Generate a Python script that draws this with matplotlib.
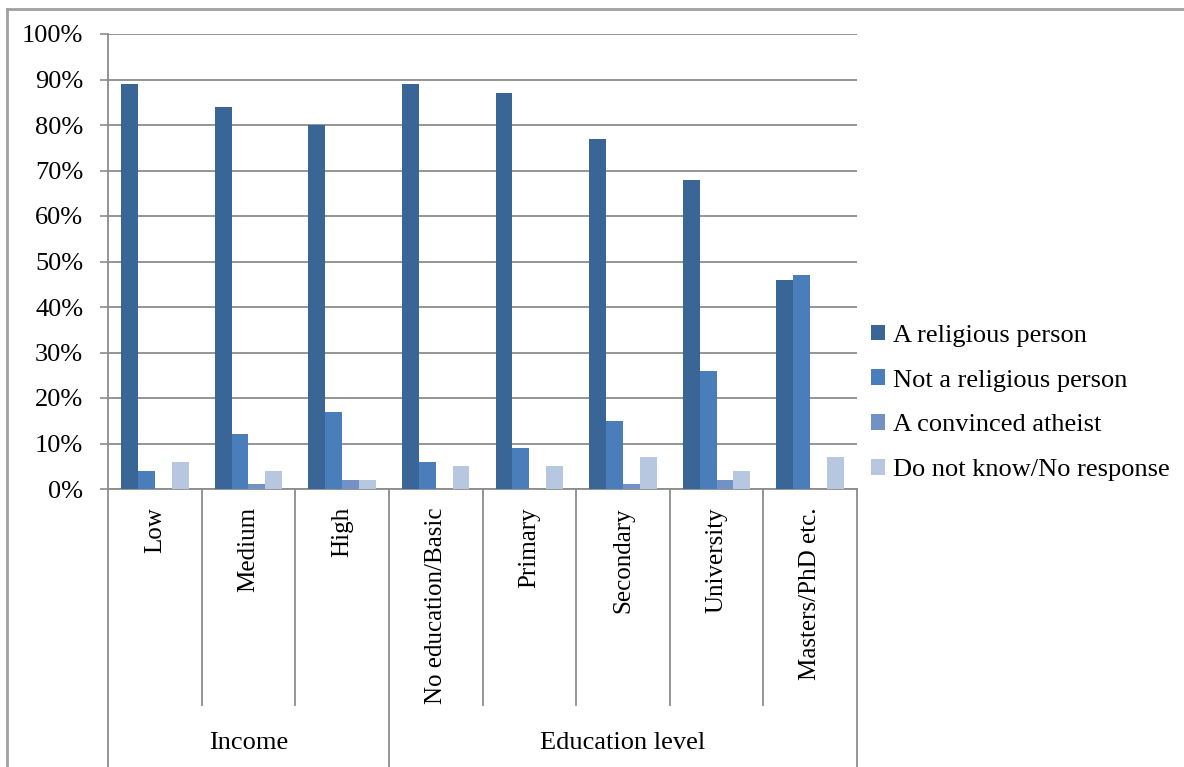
import numpy as np
import matplotlib
matplotlib.use("Agg")
import matplotlib.pyplot as plt
from matplotlib.lines import Line2D
from matplotlib.patches import Patch
import matplotlib.transforms as mtransforms

categories = ['Low', 'Medium', 'High', 'No education/Basic', 'Primary',
              'Secondary', 'University', 'Masters/PhD etc.']
groups = ['Income', 'Education level']
group_sizes = [3, 5]

series = ['A religious person', 'Not a religious person',
          'A convinced atheist', 'Do not know/No response']
religious = [89, 84, 80, 89, 87, 77, 68, 46]
not_religious = [4, 12, 17, 6, 9, 15, 26, 47]
atheist = [0, 1, 2, 0, 0, 1, 2, 0]
dont_know = [6, 4, 2, 5, 5, 7, 4, 7]
values = [religious, not_religious, atheist, dont_know]

colors = ['#3A6597', '#4A7EBB', '#7291C4', '#B7C7E0']
grey = '#8C8C8C'

plt.rcParams['font.family'] = ['Liberation Serif', 'DejaVu Serif']

W, H = 1184, 767
fig = plt.figure(figsize=(W / 100, H / 100), dpi=100)
fig.patch.set_facecolor('white')

# plot area in pixel coordinates
x0, x1, ytop, ybot = 108, 857, 34, 489
ax = fig.add_axes([x0 / W, 1 - ybot / H, (x1 - x0) / W, (ybot - ytop) / H])

x = np.arange(len(categories))
bw = 0.18
for i, (vals, col, name) in enumerate(zip(values, colors, series)):
    ax.bar(x + (i - 1.5) * bw, vals, width=bw, color=col, label=name, zorder=3)

ax.set_xlim(-0.5, len(categories) - 0.5)
ax.set_ylim(0, 100)
ax.set_yticks(np.arange(0, 101, 10))
ax.set_yticklabels([f'{v}%' for v in range(0, 101, 10)], fontsize=19)
ax.yaxis.grid(True, color=grey, linewidth=1.3, zorder=0)
ax.tick_params(axis='y', direction='out', length=5.8, width=1.2, color=grey, pad=12)
ax.set_xticks([])
for s in ['top', 'right']:
    ax.spines[s].set_visible(False)
for s in ['left', 'bottom']:
    ax.spines[s].set_color(grey)
    ax.spines[s].set_linewidth(1.3)

# multi-level category axis below the plot
trans = mtransforms.blended_transform_factory(ax.transData, ax.transAxes)
hpx = ybot - ytop
sep_end = -(705 - ybot) / hpx
fig_end = -(H - ybot) / hpx
bounds = np.cumsum([0] + group_sizes) - 0.5
for k in range(1, len(categories)):
    xb = k - 0.5
    end = fig_end if xb in bounds else sep_end
    ax.add_line(Line2D([xb, xb], [0, end], transform=trans, color=grey,
                       linewidth=1.3, clip_on=False))
for xb in [bounds[0], bounds[-1]]:
    ax.add_line(Line2D([xb, xb], [0, fig_end], transform=trans, color=grey,
                       linewidth=1.3, clip_on=False))

lab_y = -(507 - ybot) / hpx
for xi, cat in zip(x, categories):
    ax.text(xi, lab_y, cat, transform=trans, rotation=90, ha='center',
            va='top', fontsize=18)

grp_y = -(743 - ybot) / hpx
for g, lo, hi in zip(groups, bounds[:-1], bounds[1:]):
    ax.text((lo + hi) / 2, grp_y, g, transform=trans, ha='center',
            va='center', fontsize=19)

# legend
handles = [Patch(facecolor=c, edgecolor='none') for c in colors]
fig.legend(handles, series, loc='upper left',
           bbox_to_anchor=(860 / W, 1 - 314 / H), frameon=False, fontsize=19,
           handlelength=0.55, handleheight=0.55, handletextpad=0.3,
           labelspacing=0.85, borderaxespad=0)

# chart border
fig.add_artist(Line2D([7 / W, 1], [1 - 9 / H, 1 - 9 / H], color='#A0A0A0',
                      linewidth=2, transform=fig.transFigure))
fig.add_artist(Line2D([7 / W, 7 / W], [0, 1 - 9 / H], color='#A0A0A0',
                      linewidth=2, transform=fig.transFigure))

fig.savefig('out.png', dpi=100)
